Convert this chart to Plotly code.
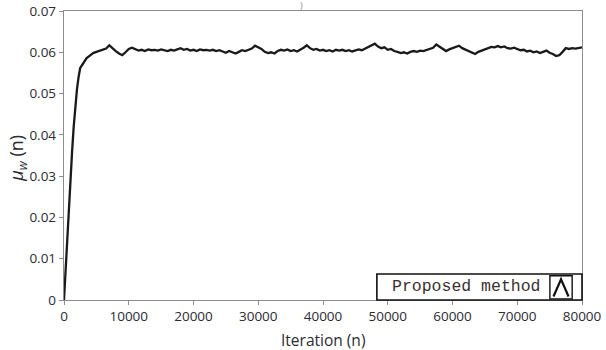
import plotly.graph_objects as go

# ---- data ----
iter_ramp = [0, 100, 250, 500, 750, 1000, 1250, 1500, 1750, 2000, 2250, 2500, 2750,
             3000, 3500, 4000, 4500, 5000, 5500, 6000, 6500, 7000, 7500, 8000, 8500,
             9000, 9500, 10000, 10500]
mu_ramp = [0.0, 0.0030, 0.0090, 0.0160, 0.0230, 0.0300, 0.0360, 0.0420, 0.0470, 0.0510,
           0.0540, 0.0562, 0.0568, 0.0575, 0.0586, 0.0592, 0.0598, 0.0601, 0.0604, 0.0607,
           0.0609, 0.0617, 0.0609, 0.0603, 0.0597, 0.0593, 0.0600, 0.0608, 0.0611]

iter_steady = [11000, 11500, 12000, 12500, 13000, 13500, 14000, 14500, 15000, 15500,
               16000, 16500, 17000, 17500, 18000, 18500, 19000, 19500, 20000, 20500,
               21000, 21500, 22000, 22500, 23000, 23500, 24000, 24500, 25000, 25500,
               26000, 26500, 27000, 27500, 28000, 28500, 29000, 29500, 30000, 30500,
               31000, 31500, 32000, 32500, 33000, 33500, 34000, 34500, 35000, 35500,
               36000, 36500, 37000, 37500, 38000, 38500, 39000, 39500, 40000, 40500,
               41000, 41500, 42000, 42500, 43000, 43500, 44000, 44500, 45000, 45500,
               46000, 46500, 47000, 47500, 48000, 48500, 49000, 49500, 50000, 50500,
               51000, 51500, 52000, 52500, 53000, 53500, 54000, 54500, 55000, 55500,
               56000, 56500, 57000, 57500, 58000, 58500, 59000, 59500, 60000, 60500,
               61000, 61500, 62000, 62500, 63000, 63500, 64000, 64500, 65000, 65500,
               66000, 66500, 67000, 67500, 68000, 68500, 69000, 69500, 70000, 70500,
               71000, 71500, 72000, 72500, 73000, 73500, 74000, 74500, 75000, 75500,
               76000, 76500, 77000, 77500, 78000, 78500, 79000, 79500, 80000]
mu_steady = [0.0607, 0.0604, 0.0606, 0.0603, 0.0607, 0.0605, 0.0606, 0.0604, 0.0607, 0.0605,
             0.0603, 0.0606, 0.0604, 0.0607, 0.0610, 0.0606, 0.0608, 0.0604, 0.0606, 0.0603,
             0.0607, 0.0605, 0.0606, 0.0604, 0.0606, 0.0603, 0.0605, 0.0602, 0.0599, 0.0603,
             0.0600, 0.0597, 0.0601, 0.0605, 0.0603, 0.0606, 0.0609, 0.0616, 0.0612, 0.0608,
             0.0601, 0.0598, 0.0600, 0.0597, 0.0603, 0.0606, 0.0604, 0.0607, 0.0603, 0.0605,
             0.0602, 0.0606, 0.0611, 0.0617, 0.0610, 0.0606, 0.0608, 0.0604, 0.0606, 0.0603,
             0.0605, 0.0602, 0.0606, 0.0604, 0.0606, 0.0603, 0.0605, 0.0602, 0.0604, 0.0607,
             0.0605, 0.0609, 0.0612, 0.0615, 0.0621, 0.0614, 0.0610, 0.0612, 0.0606, 0.0608,
             0.0603, 0.0601, 0.0598, 0.0600, 0.0597, 0.0601, 0.0603, 0.0601, 0.0604, 0.0603,
             0.0606, 0.0608, 0.0611, 0.0619, 0.0614, 0.0608, 0.0603, 0.0607, 0.0610, 0.0613,
             0.0616, 0.0610, 0.0606, 0.0603, 0.0600, 0.0596, 0.0601, 0.0604, 0.0608, 0.0611,
             0.0613, 0.0612, 0.0615, 0.0612, 0.0614, 0.0610, 0.0609, 0.0611, 0.0607, 0.0605,
             0.0606, 0.0602, 0.0604, 0.0600, 0.0602, 0.0598, 0.0601, 0.0604, 0.0599, 0.0596,
             0.0591, 0.0593, 0.0601, 0.0610, 0.0608, 0.0610, 0.0609, 0.0611, 0.0612]

x_ticks = [0, 10000, 20000, 30000, 40000, 50000, 60000, 70000, 80000]
y_ticks = [0, 0.01, 0.02, 0.03, 0.04, 0.05, 0.06, 0.07]
y_tick_labels = ["0", "0.01", "0.02", "0.03", "0.04", "0.05", "0.06", "0.07"]
legend_label = "Proposed method"
x_title = "Iteration (n)"
y_title = "<i>μ<sub>w</sub></i> (n)"

iters = iter_ramp + iter_steady
mu = mu_ramp + mu_steady

fig = go.Figure()
fig.add_trace(go.Scatter(x=iters, y=mu, mode="lines",
                         line=dict(color="#1a1a1a", width=2.3),
                         showlegend=False, hoverinfo="skip"))

tick_font = dict(family="Open Sans, sans-serif", size=13.5, color="#2b2b33")
axis_common = dict(showgrid=False, zeroline=False, showline=True, linecolor="#8c8c8c",
                   linewidth=1.2, mirror=True, ticks="outside", ticklen=4,
                   tickcolor="#8c8c8c", tickfont=tick_font, automargin=False)

fig.update_xaxes(range=[0, 80000], tickvals=x_ticks,
                 ticktext=[str(v) for v in x_ticks], **axis_common)
fig.update_yaxes(range=[0, 0.07], tickvals=y_ticks, ticktext=y_tick_labels, **axis_common)

# custom legend box
shapes = [
    dict(type="rect", xref="paper", yref="paper", x0=0.604, x1=1.0, y0=0.0, y1=0.09,
         line=dict(color="#111111", width=1.6), fillcolor="white", layer="above"),
    dict(type="rect", xref="paper", yref="paper", x0=0.938, x1=0.981, y0=0.004, y1=0.084,
         line=dict(color="#111111", width=1.4), fillcolor="white", layer="above"),
    dict(type="path", xref="paper", yref="paper",
         path="M 0.945 0.012 L 0.9595 0.072 L 0.974 0.012",
         line=dict(color="#111111", width=2.2), layer="above"),
]

annotations = [
    dict(text=legend_label, xref="paper", yref="paper", x=0.7775, y=0.045,
         xanchor="center", yanchor="middle", showarrow=False,
         font=dict(family="Liberation Mono, monospace", size=16.5, color="#3a3030")),
    dict(text=")", xref="paper", yref="paper", x=0.459, y=1.02,
         xanchor="center", yanchor="middle", showarrow=False,
         font=dict(family="Open Sans, sans-serif", size=9, color="#888888")),
    dict(text=x_title, xref="paper", yref="paper", x=0.5, y=-0.138,
         xanchor="center", yanchor="middle", showarrow=False,
         font=dict(family="Open Sans, sans-serif", size=15.5, color="#2b2b33")),
    dict(text=y_title, xref="paper", yref="paper", x=-0.09, y=0.49, textangle=-90,
         xanchor="center", yanchor="middle", showarrow=False,
         font=dict(family="Open Sans, sans-serif", size=18, color="#2b2b33")),
]

fig.update_layout(width=606, height=350,
                  margin=dict(l=64, r=24, t=11, b=50),
                  paper_bgcolor="white", plot_bgcolor="white",
                  shapes=shapes, annotations=annotations)

fig.write_html("out.html", config={"displayModeBar": False, "staticPlot": True},
               post_script="document.body.style.margin='0';document.body.style.overflow='hidden';")
